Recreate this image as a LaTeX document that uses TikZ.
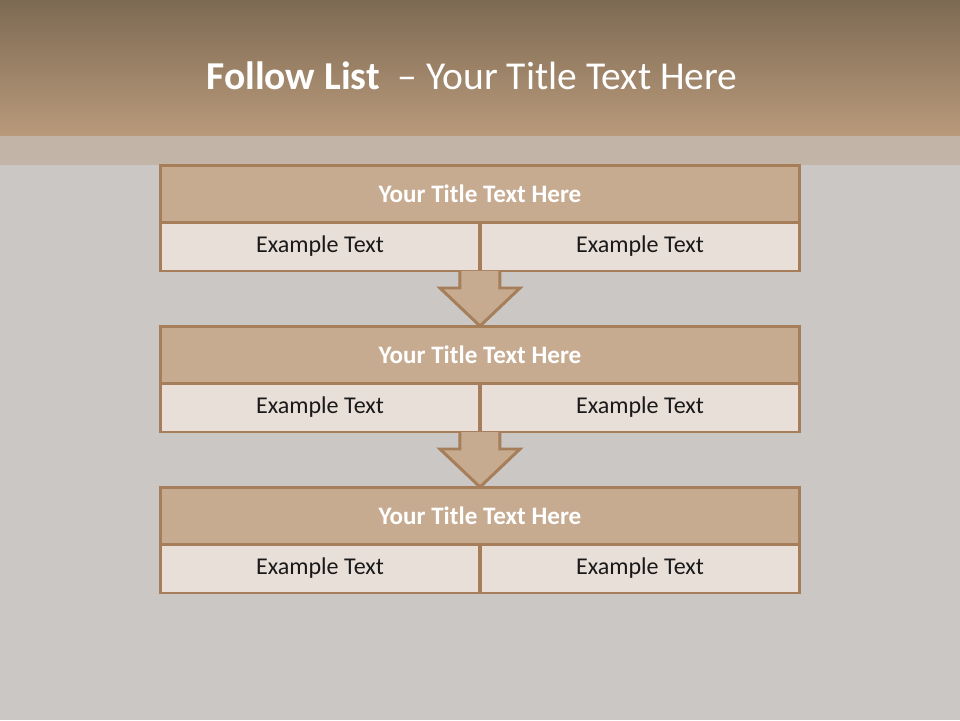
\documentclass[tikz,border=0pt]{standalone}
\usepackage{fontspec}
\setmainfont{Carlito}
\usepackage{xcolor}
\usetikzlibrary{calc}

\definecolor{headtop}{HTML}{7D6A53}
\definecolor{headbot}{HTML}{B99A7B}
\definecolor{bandcol}{HTML}{C3B4A8}
\definecolor{bggray}{HTML}{CBC7C4}
\definecolor{boxline}{HTML}{A67E5A}
\definecolor{titlefill}{HTML}{C6AB91}
\definecolor{cellfill}{HTML}{E8DFD8}

\tikzset{
  rowtitle/.style={draw=boxline, fill=titlefill, line width=1.7pt, minimum width=12.8cm,
    minimum height=1.14cm, inner sep=0pt, outer sep=0pt, text=white,
    font=\bfseries\fontsize{14.3}{16}\selectfont},
  rowcell/.style={draw=boxline, fill=cellfill, line width=1.7pt, minimum width=6.4cm,
    minimum height=0.98cm, inner sep=0pt, outer sep=0pt, text=black!90,
    font=\fontsize{13.7}{16}\selectfont},
  downarrow/.style={draw=boxline, fill=titlefill, line width=1.7pt, line join=miter}
}

\begin{document}
\begin{tikzpicture}[x=0.02cm, y=-0.02cm]
        \useasboundingbox (0,0) rectangle (960,720);

        % background and header
        \fill[bggray] (0,0) rectangle (960,720);
        \shade[top color=headtop, bottom color=headbot] (0,0) rectangle (960,136);
        \fill[bandcol] (0,136) rectangle (960,165);
        \node[text=white, font=\fontsize{22.5}{26}\selectfont] (head) at (472,76)
            {\textbf{Follow List}\ \ – Your Title Text Here};

        % first block
        \node[rowtitle] (t1) at (480,193.5) {Your Title Text Here};
        \node[rowcell] (c1a) at (320,246.5) {Example Text};
        \node[rowcell] (c1b) at (640,246.5) {Example Text};

        % second block
        \node[rowtitle] (t2) at (480,354.5) {Your Title Text Here};
        \node[rowcell] (c2a) at (320,407.5) {Example Text};
        \node[rowcell] (c2b) at (640,407.5) {Example Text};

        % third block
        \node[rowtitle] (t3) at (480,515.5) {Your Title Text Here};
        \node[rowcell] (c3a) at (320,568.5) {Example Text};
        \node[rowcell] (c3b) at (640,568.5) {Example Text};

        % arrows between blocks
        \draw[downarrow] ($(c1a.south east)+(-20,0)$) -- ++(0,17) -- ++(-20,0) -- (t2.north)
            -- ($(c1a.south east)+(40,17)$) -- ++(-20,0) -- ++(0,-17);
        \draw[downarrow] ($(c2a.south east)+(-20,0)$) -- ++(0,17) -- ++(-20,0) -- (t3.north)
            -- ($(c2a.south east)+(40,17)$) -- ++(-20,0) -- ++(0,-17);
    \end{tikzpicture}
\end{document}
